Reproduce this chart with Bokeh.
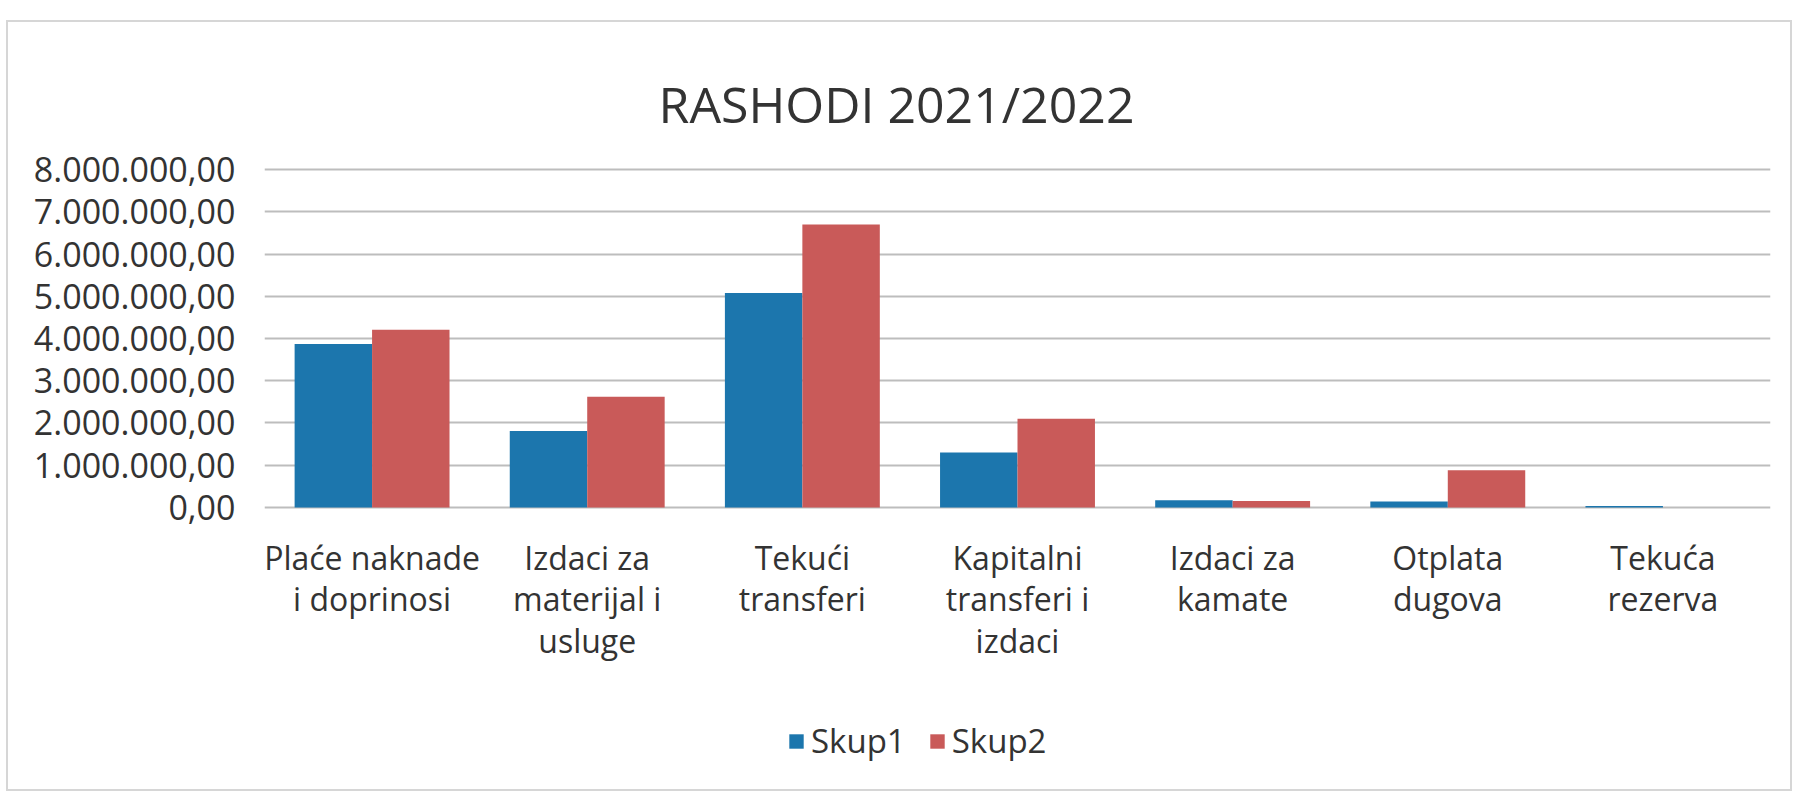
from bokeh.plotting import figure
from bokeh.layouts import column
from bokeh.models import Range1d, FixedTicker, Legend, LegendItem, ColumnDataSource, LinearAxis, Label
from bokeh.transform import dodge
from bokeh.embed import file_html
from bokeh.resources import INLINE

title_text = "RASHODI 2021/2022"
categories = ["Plaće naknade i doprinosi", "Izdaci za materijal i usluge", "Tekući transferi",
              "Kapitalni transferi i izdaci", "Izdaci za kamate", "Otplata dugova", "Tekuća rezerva"]
label_line1 = ["Plaće naknade", "Izdaci za", "Tekući", "Kapitalni", "Izdaci za", "Otplata", "Tekuća"]
label_line2 = ["i doprinosi", "materijal i", "transferi", "transferi i", "kamate", "dugova", "rezerva"]
label_line3 = ["", "usluge", "", "izdaci", "", "", ""]
series_names = ["Skup1", "Skup2"]
skup1 = [3870000, 1810000, 5080000, 1300000, 170000, 140000, 30000]
skup2 = [4210000, 2620000, 6700000, 2100000, 150000, 880000, 0]
y_ticks = [0, 1000000, 2000000, 3000000, 4000000, 5000000, 6000000, 7000000, 8000000]
y_tick_labels = ["0,00", "1.000.000,00", "2.000.000,00", "3.000.000,00", "4.000.000,00",
                 "5.000.000,00", "6.000.000,00", "7.000.000,00", "8.000.000,00"]

BLUE = "#1c76ad"
RED = "#c95a59"
TXT = "#333333"
FONT = "Open Sans"
W = 1801
FL, FR = 264, W - 31   # frame left / right (pixels); column aligns all frames

# category centre positions on a numeric axis (one unit per category)
xc = [i + 0.5 for i in range(len(categories))]
src = ColumnDataSource(dict(xc=xc, cat=categories, s1=skup1, s2=skup2))

# ---------- title strip ----------
TH = 140
t = figure(width=W, height=TH, x_range=Range1d(FL, FR), y_range=Range1d(0, TH),
           x_axis_type=None, y_axis_type=None, output_backend="svg", toolbar_location=None,
           min_border=0)
t.outline_line_color = None
t.grid.visible = False
t.background_fill_color = None
t.border_fill_color = None
t.add_layout(Label(x=896, y=37, text=title_text, text_align="center", text_baseline="middle",
                   text_font=FONT, text_font_size="50px", text_color=TXT))

# ---------- main chart ----------
p = figure(x_range=Range1d(0, len(categories)), y_range=Range1d(-50000, 8050000),
           width=W, height=560, output_backend="svg", toolbar_location=None,
           min_border_left=FL, min_border_right=W - FR, min_border_top=27, min_border_bottom=191)
p.outline_line_color = None
p.background_fill_color = None
p.border_fill_color = None

r1 = p.vbar(x=dodge("xc", -0.18), top="s1", width=0.36, source=src, fill_color=BLUE, line_color=None)
r2 = p.vbar(x=dodge("xc", 0.18), top="s2", width=0.36, source=src, fill_color=RED, line_color=None)

p.xgrid.visible = False
p.ygrid.grid_line_color = "#bdbdbd"
p.ygrid.grid_line_width = 2
p.ygrid.ticker = FixedTicker(ticks=y_ticks)

ya = p.yaxis[0]
ya.ticker = FixedTicker(ticks=y_ticks)
ya.major_label_overrides = {tk: lb for tk, lb in zip(y_ticks, y_tick_labels)}
ya.axis_line_color = None
ya.major_tick_line_color = None
ya.minor_tick_line_color = None
ya.major_tick_out = 0
ya.major_label_text_font = FONT
ya.major_label_text_font_size = "34px"
ya.major_label_text_color = TXT
ya.major_label_standoff = 29


def style_xaxis(ax, labels, standoff):
    ticks = [x for x, lb in zip(xc, labels) if lb]
    ax.ticker = FixedTicker(ticks=ticks)
    ax.major_label_overrides = {x: lb for x, lb in zip(xc, labels) if lb}
    ax.axis_line_color = None
    ax.major_tick_line_color = None
    ax.minor_tick_line_color = None
    ax.major_tick_out = 0
    ax.major_tick_in = 0
    ax.major_label_text_font = FONT
    ax.major_label_text_font_size = "32px"
    ax.major_label_text_color = TXT
    ax.major_label_standoff = standoff


style_xaxis(p.xaxis[0], label_line1, 26)
ax2 = LinearAxis()
style_xaxis(ax2, label_line2, -5)
p.add_layout(ax2, "below")
ax3 = LinearAxis()
style_xaxis(ax3, label_line3, -4)
p.add_layout(ax3, "below")

# ---------- legend strip ----------
q = figure(width=W, height=100, x_range=Range1d(FL, FR), y_range=Range1d(0, 100),
           x_axis_type=None, y_axis_type=None, output_backend="svg", toolbar_location=None,
           min_border=0)
q.outline_line_color = None
q.grid.visible = False
q.background_fill_color = None
q.border_fill_color = None
# off-screen one-row sources only used to give the legend its swatches
dummy = ColumnDataSource(dict(x=[0], top=[0]))
lg1 = q.vbar(x="x", top="top", width=1, source=dummy, fill_color=BLUE, line_color=None)
lg2 = q.vbar(x="x", top="top", width=1, source=dummy, fill_color=RED, line_color=None)
legend = Legend(items=[LegendItem(label=series_names[0], renderers=[lg1]),
                       LegendItem(label=series_names[1], renderers=[lg2])],
                orientation="horizontal", location=(787 - FL, 37),
                border_line_color=None, background_fill_alpha=0,
                label_text_font=FONT, label_text_font_size="33px", label_text_color=TXT,
                glyph_width=18, glyph_height=18, label_standoff=6, spacing=22,
                padding=0, margin=0)
q.add_layout(legend)

layout = column(t, p, q, spacing=0)
layout.styles = {
    "background-color": "white",
    "background-image": ("linear-gradient(#d6d6d6,#d6d6d6), linear-gradient(#d6d6d6,#d6d6d6), "
                         "linear-gradient(#d6d6d6,#d6d6d6), linear-gradient(#d6d6d6,#d6d6d6)"),
    "background-size": "1786px 2px, 1786px 2px, 2px 771px, 2px 771px",
    "background-position": "6px 20px, 6px 789px, 6px 20px, 1790px 20px",
    "background-repeat": "no-repeat",
}

open("out.html", "w").write(file_html(layout, INLINE))
